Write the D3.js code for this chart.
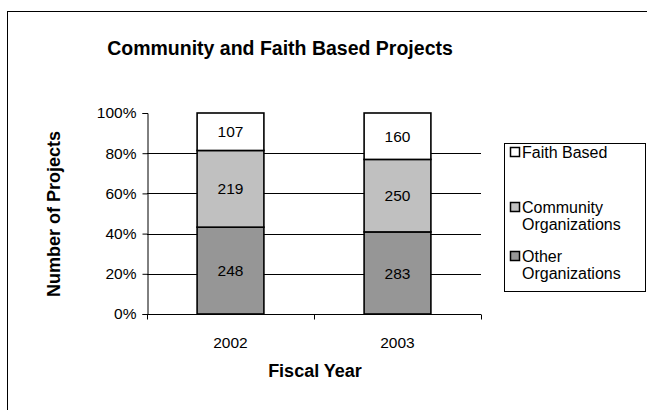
<!DOCTYPE html>
<html>
<head>
<meta charset="utf-8">
<script src="https://cdn.jsdelivr.net/npm/d3@7"></script>
<style>
  html, body { margin: 0; padding: 0; background: #fff; }
  svg { display: block; font-family: "Liberation Sans", Arial, sans-serif; }
</style>
</head>
<body>
<svg id="chart" width="647" height="410"></svg>
<script>
// Fiscal years on the x axis
const years = ["2002", "2003"];
// Project counts per organization type, stacked bottom to top
const otherOrgs = [248, 283];
const communityOrgs = [219, 250];
const faithBased = [107, 160];
// Percentage axis ticks
const yTicks = [0, 0.2, 0.4, 0.6, 0.8, 1.0];

const seriesNames = ["Other Organizations", "Community Organizations", "Faith Based"];
const seriesFill = ["#969696", "#c0c0c0", "#ffffff"];
const seriesValues = [otherOrgs, communityOrgs, faithBased];

const svg = d3.select("#chart");

// Outer chart frame
svg.append("rect")
  .attr("x", 7.5).attr("y", 11.5)
  .attr("width", 660).attr("height", 420)
  .attr("fill", "#fff").attr("stroke", "#000").attr("stroke-width", 1);

const plot = { left: 147, right: 481, top: 113, bottom: 314 };

const x = d3.scaleBand().domain(years)
  .range([plot.left, plot.right])
  .paddingInner(0.6).paddingOuter(0.3);
const y = d3.scaleLinear().domain([0, 1]).range([plot.bottom, plot.top]);

// Build 100% stacked rows
const rows = years.map((yr, i) => {
  const row = { year: yr };
  seriesNames.forEach((s, k) => row[s] = seriesValues[k][i]);
  return row;
});
const stack = d3.stack().keys(seriesNames).offset(d3.stackOffsetExpand);
const layers = stack(rows);

// Horizontal gridlines
svg.append("g").selectAll("line")
  .data(yTicks.filter(t => t > 0 && t < 1))
  .join("line")
  .attr("x1", plot.left).attr("x2", plot.right)
  .attr("y1", d => Math.round(y(d)) + 0.5).attr("y2", d => Math.round(y(d)) + 0.5)
  .attr("stroke", "#000").attr("stroke-width", 1);

// Stacked bars
const layerG = svg.append("g").selectAll("g")
  .data(layers)
  .join("g")
  .attr("fill", (d, i) => seriesFill[i]);

layerG.selectAll("rect")
  .data(d => d.map(p => ({ p, key: d.key })))
  .join("rect")
  .attr("x", d => x(d.p.data.year))
  .attr("width", x.bandwidth())
  .attr("y", d => y(d.p[1]))
  .attr("height", d => y(d.p[0]) - y(d.p[1]))
  .attr("stroke", "#000").attr("stroke-width", 1.6);

// Value labels centred in each segment
layerG.selectAll("text")
  .data(d => d.map(p => ({ p, key: d.key })))
  .join("text")
  .attr("x", d => x(d.p.data.year) + x.bandwidth() / 2)
  .attr("y", d => (y(d.p[0]) + y(d.p[1])) / 2)
  .attr("dy", "0.36em")
  .attr("text-anchor", "middle")
  .attr("fill", "#000")
  .style("font-size", "15.5px")
  .text(d => d.p.data[d.key]);

// Y axis
const yAxis = svg.append("g")
  .attr("transform", `translate(${plot.left + 0.5},0)`)
  .call(d3.axisLeft(y).tickValues(yTicks).tickFormat(d3.format(".0%")).tickSizeOuter(0).tickSize(5).tickPadding(6));
yAxis.select(".domain").attr("stroke", "#000");
yAxis.selectAll("text").style("font-size", "15.5px").attr("fill", "#000").attr("font-family", null);

// X axis with tick marks between categories
const xAxis = svg.append("g")
  .attr("transform", `translate(0,${plot.bottom + 0.5})`);
xAxis.append("line")
  .attr("x1", plot.left).attr("x2", plot.right)
  .attr("stroke", "#000");
const step = (plot.right - plot.left) / years.length;
xAxis.selectAll("line.tick")
  .data(d3.range(years.length + 1))
  .join("line")
  .attr("class", "tick")
  .attr("x1", i => Math.round(plot.left + i * step) + 0.5)
  .attr("x2", i => Math.round(plot.left + i * step) + 0.5)
  .attr("y1", 0).attr("y2", 5)
  .attr("stroke", "#000");
xAxis.selectAll("text")
  .data(years)
  .join("text")
  .attr("x", d => x(d) + x.bandwidth() / 2)
  .attr("y", 33)
  .attr("text-anchor", "middle")
  .style("font-size", "15.5px")
  .text(d => d);

// Title and axis titles
svg.append("text")
  .attr("x", 280).attr("y", 55)
  .attr("text-anchor", "middle")
  .style("font-size", "19.5px").style("font-weight", "bold")
  .text("Community and Faith Based Projects");

svg.append("text")
  .attr("x", 315).attr("y", 377)
  .attr("text-anchor", "middle")
  .style("font-size", "18px").style("font-weight", "bold")
  .text("Fiscal Year");

svg.append("text")
  .attr("transform", "translate(60,214) rotate(-90)")
  .attr("text-anchor", "middle")
  .style("font-size", "18px").style("font-weight", "bold")
  .text("Number of Projects");

// Legend
const legend = svg.append("g");
legend.append("rect")
  .attr("x", 504.5).attr("y", 143.5)
  .attr("width", 141).attr("height", 148)
  .attr("fill", "#fff").attr("stroke", "#000");

const legendItems = [
  { lines: ["Faith Based"], fill: seriesFill[2], y: 152 },
  { lines: ["Community", "Organizations"], fill: seriesFill[1], y: 207 },
  { lines: ["Other", "Organizations"], fill: seriesFill[0], y: 256 }
];
const li = legend.selectAll("g.item").data(legendItems).join("g").attr("class", "item");
li.append("rect")
  .attr("x", 510.5).attr("y", d => d.y - 4.5)
  .attr("width", 9).attr("height", 9)
  .attr("fill", d => d.fill).attr("stroke", "#000").attr("stroke-width", 1.5);
li.append("text")
  .attr("y", d => d.y)
  .style("font-size", "16px")
  .selectAll("tspan")
  .data(d => d.lines)
  .join("tspan")
  .attr("x", 522)
  .attr("dy", (d, i) => i === 0 ? "0.36em" : "1.05em")
  .text(d => d);
</script>
</body>
</html>
